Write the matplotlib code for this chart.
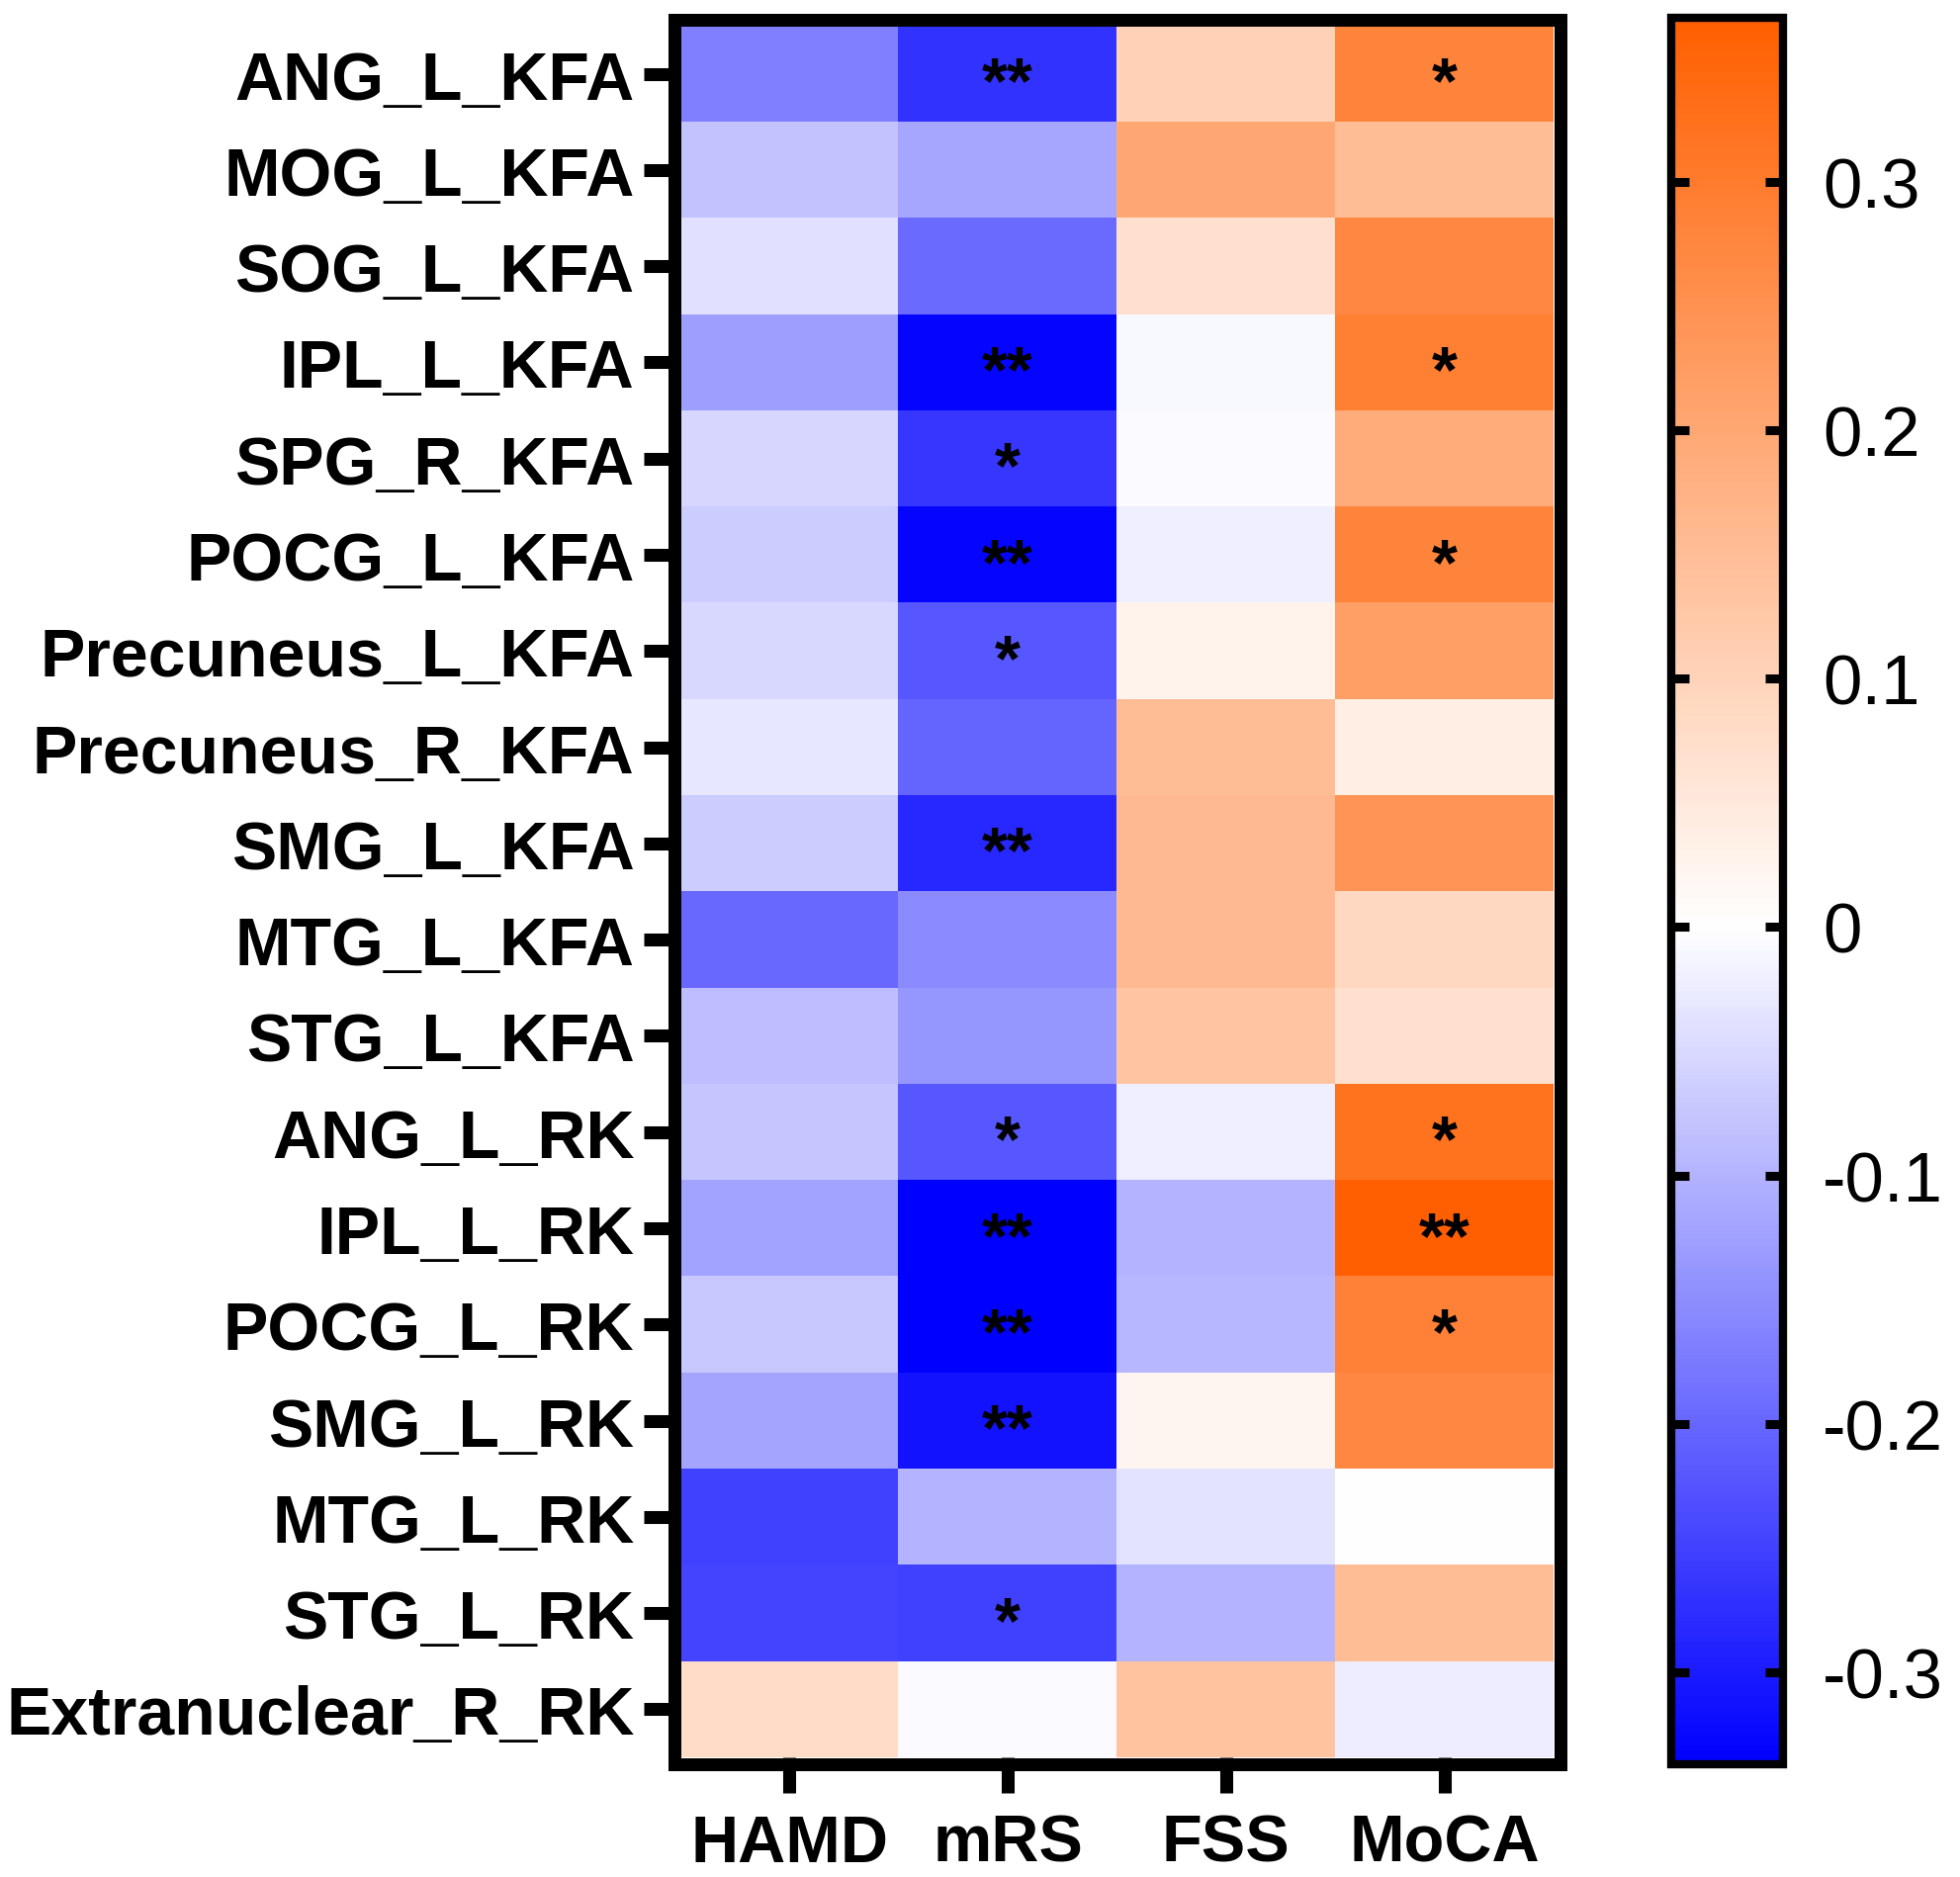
import numpy as np
import matplotlib
matplotlib.use("Agg")
import matplotlib.pyplot as plt
from matplotlib.colors import LinearSegmentedColormap, Normalize
from matplotlib.patches import Rectangle
from matplotlib import transforms

rois = ["ANG_L_KFA", "MOG_L_KFA", "SOG_L_KFA", "IPL_L_KFA", "SPG_R_KFA",
        "POCG_L_KFA", "Precuneus_L_KFA", "Precuneus_R_KFA", "SMG_L_KFA",
        "MTG_L_KFA", "STG_L_KFA", "ANG_L_RK", "IPL_L_RK", "POCG_L_RK",
        "SMG_L_RK", "MTG_L_RK", "STG_L_RK", "Extranuclear_R_RK"]
scales = ["HAMD", "mRS", "FSS", "MoCA"]

hamd = [-0.168, -0.080, -0.040, -0.126, -0.053, -0.067, -0.050, -0.030, -0.066,
        -0.198, -0.086, -0.075, -0.122, -0.073, -0.120, -0.250, -0.245, 0.079]
mrs = [-0.270, -0.115, -0.195, -0.330, -0.265, -0.330, -0.220, -0.205, -0.284,
       -0.152, -0.139, -0.220, -0.337, -0.335, -0.310, -0.100, -0.250, -0.005]
fss = [0.100, 0.200, 0.072, -0.010, -0.005, -0.020, 0.028, 0.150, 0.158,
       0.158, 0.130, -0.020, -0.100, -0.093, 0.020, -0.036, -0.100, 0.137]
moca = [0.280, 0.150, 0.270, 0.290, 0.190, 0.280, 0.220, 0.039, 0.245,
        0.086, 0.072, 0.320, 0.366, 0.285, 0.270, 0.000, 0.150, -0.022]

# significance marks (row, column, mark)
stars = [(0, 1, "**"), (0, 3, "*"), (3, 1, "**"), (3, 3, "*"), (4, 1, "*"),
         (5, 1, "**"), (5, 3, "*"), (6, 1, "*"), (8, 1, "**"), (11, 1, "*"),
         (11, 3, "*"), (12, 1, "**"), (12, 3, "**"), (13, 1, "**"), (13, 3, "*"),
         (14, 1, "**"), (16, 1, "*")]

vmin, vmax = -0.337, 0.366
cbar_ticks = [-0.3, -0.2, -0.1, 0, 0.1, 0.2, 0.3]
cbar_labels = ["-0.3", "-0.2", "-0.1", "0", "0.1", "0.2", "0.3"]

W, H = 1983, 1899
fig = plt.figure(figsize=(W / 100, H / 100), dpi=100)
plt.rcParams["font.family"] = ["Liberation Sans", "DejaVu Sans"]

data = np.array([hamd, mrs, fss, moca]).T
zero = -vmin / (vmax - vmin)
cmap = LinearSegmentedColormap.from_list(
    "bwo", [(0, "#0000FF"), (zero, "#FFFFFF"), (1, "#FF5F00")])
norm = Normalize(vmin=vmin, vmax=vmax)

x0, x1, y0, y1 = 688, 1571, 27, 1778
ax = fig.add_axes([x0 / W, 1 - y1 / H, (x1 - x0) / W, (y1 - y0) / H])
ax.imshow(data, aspect="auto", cmap=cmap, norm=norm, interpolation="nearest")
for s in ax.spines.values():
    s.set_visible(False)

# thick frame drawn just outside the cells
bw = 13
fig.patches.append(Rectangle(((x0 - bw / 2) / W, 1 - (y1 + bw / 2) / H),
                             (x1 - x0 + bw) / W, (y1 - y0 + bw) / H,
                             transform=fig.transFigure, fill=False,
                             edgecolor="black", lw=bw * 0.72, joinstyle="miter"))

ax.set_yticks(range(len(rois)))
ax.set_yticklabels(rois, fontsize=49, fontweight="bold")
ax.set_xticks(range(len(scales)))
ax.set_xticklabels(scales, fontsize=48, fontweight="bold")
ax.tick_params(axis="y", length=27, width=9.4, pad=6.5)
ax.tick_params(axis="x", length=26, width=9.4, pad=15)

fs_star = 48
star_tr = transforms.offset_copy(ax.transData, fig=fig, x=0, y=-0.43 * fs_star,
                                 units="points")
for r, c, m in stars:
    ax.text(c, r, m, ha="center", va="baseline", fontsize=fs_star,
            fontweight="bold", color="black", transform=star_tr)

# colour bar
cx0, cx1, cy0, cy1 = 1690, 1803, 19, 1785
cax = fig.add_axes([cx0 / W, 1 - cy1 / H, (cx1 - cx0) / W, (cy1 - cy0) / H])
sm = plt.cm.ScalarMappable(norm=norm, cmap=cmap)
cb = fig.colorbar(sm, cax=cax)
cb.outline.set_linewidth(6)
cb.outline.set_edgecolor("black")
cb.set_ticks(cbar_ticks)
cb.set_ticklabels(cbar_labels)
cax.tick_params(axis="y", direction="in", length=13, width=6.5, pad=29,
                labelsize=51, left=True, right=True)

fig.savefig("out.png", dpi=100)
